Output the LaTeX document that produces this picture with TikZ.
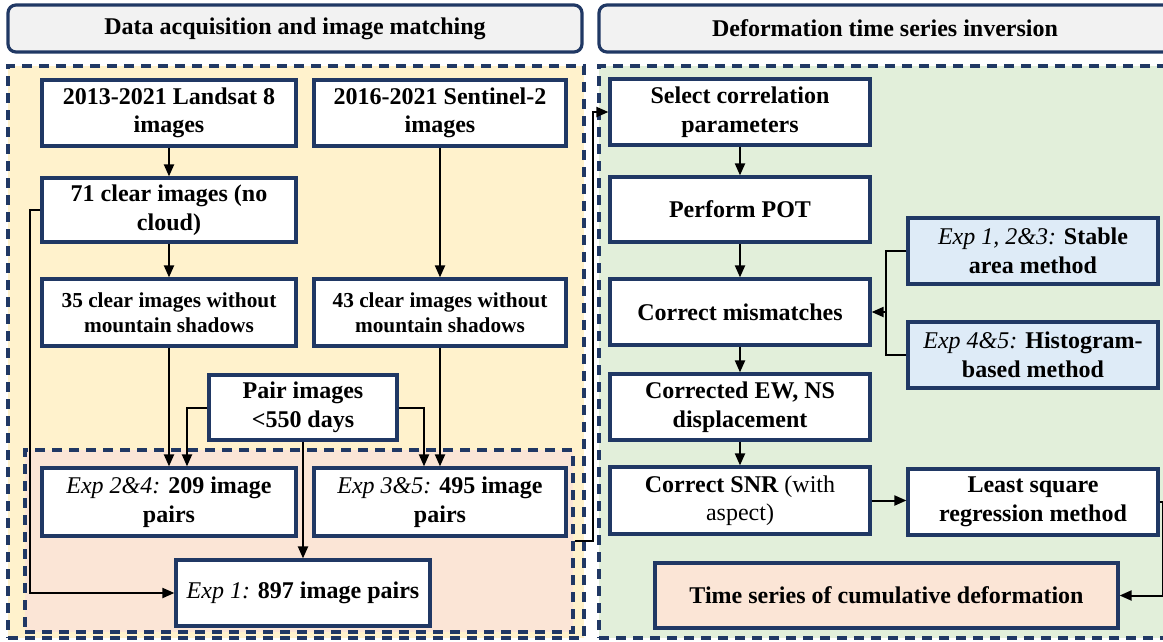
\documentclass[tikz,border=0pt]{standalone}
\usepackage{fontspec}
\setmainfont{Liberation Serif}
\usetikzlibrary{arrows.meta}
\definecolor{navy}{HTML}{203864}
\definecolor{hdrbg}{HTML}{F2F2F2}
\definecolor{yelbg}{HTML}{FFF2CC}
\definecolor{grnbg}{HTML}{E2EFDA}
\definecolor{pnkbg}{HTML}{FBE5D6}
\definecolor{blubg}{HTML}{DEEBF7}
\begin{document}
\begin{tikzpicture}[x=1pt,y=-1pt,
 box/.style={draw=navy, line width=3.2pt, fill=white, inner sep=0pt, align=center, font=\fontsize{24}{28.5}\selectfont\bfseries},
 smallbox/.style={box, font=\fontsize{21.3}{25}\selectfont\bfseries},
 hdr/.style={draw=navy, line width=3.2pt, fill=hdrbg, rounded corners=8pt, inner sep=0pt, font=\fontsize{24}{28}\selectfont\bfseries},
 region/.style={draw=navy, line width=3.2pt, dash pattern=on 10pt off 7pt, inner sep=0pt},
 arr/.style={line width=2pt, -{Triangle[length=12pt,width=10pt]}},
 ln/.style={line width=2pt}]
\clip (0,0) rectangle (1163,641);
\fill[white] (0,0) rectangle (1163,641);
% headers
\node[hdr, minimum width=574pt, minimum height=47pt] (hleft) at (295,28.5) {Data acquisition and image matching};
\node[hdr, minimum width=572pt, minimum height=47pt] (hright) at (885,28.5) {Deformation time series inversion};
% regions
\node[region, fill=yelbg, minimum width=576pt, minimum height=572pt] (lreg) at (296,352) {};
\node[region, fill=grnbg, minimum width=576pt, minimum height=572pt] (rreg) at (887,352) {};
\node[region, fill=pnkbg, minimum width=548pt, minimum height=182pt] (preg) at (299,541) {};
% left nodes
\node[box, minimum width=254pt, minimum height=66pt] (l8) at (169,113) {2013-2021 Landsat 8\\images};
\node[box, minimum width=252pt, minimum height=66pt] (s2) at (440,113) {2016-2021 Sentinel-2\\images};
\node[box, minimum width=254pt, minimum height=64pt] (c71) at (169,210) {71 clear images (no\\cloud)};
\node[smallbox, minimum width=254pt, minimum height=67pt] (c35) at (169,312.5) {35 clear images without\\mountain shadows};
\node[smallbox, minimum width=252pt, minimum height=67pt] (c43) at (440,312.5) {43 clear images without\\mountain shadows};
\node[box, minimum width=188pt, minimum height=65pt] (pair) at (303,407.5) {Pair images\\<550 days};
\node[box, minimum width=254pt, minimum height=68pt] (e24) at (169,502) {{\mdseries\itshape Exp 2\&4:} 209 image\\pairs};
\node[box, minimum width=252pt, minimum height=68pt] (e35) at (440,502) {{\mdseries\itshape Exp 3\&5:} 495 image\\pairs};
\node[box, minimum width=254pt, minimum height=66pt] (e1) at (303,593) {{\mdseries\itshape Exp 1:} 897 image pairs};
% right nodes
\node[box, minimum width=260pt, minimum height=66pt] (sel) at (740,112) {Select correlation\\parameters};
\node[box, minimum width=260pt, minimum height=65pt] (pot) at (740,209.5) {Perform POT};
\node[box, minimum width=260pt, minimum height=66pt] (mis) at (740,312) {Correct mismatches};
\node[box, minimum width=260pt, minimum height=66pt] (cew) at (740,407) {Corrected EW, NS\\displacement};
\node[box, minimum width=260pt, minimum height=67pt] (snr) at (740,500.5) {Correct SNR {\mdseries (with}\\{\mdseries aspect)}};
\node[box, fill=blubg, minimum width=250pt, minimum height=66pt] (stab) at (1033,251) {{\mdseries\itshape Exp 1, 2\&3:} Stable\\area method};
\node[box, fill=blubg, minimum width=250pt, minimum height=66pt] (hist) at (1033,355) {{\mdseries\itshape Exp 4\&5:} Histogram-\\based method};
\node[box, minimum width=250pt, minimum height=66pt] (lsq) at (1033,502) {Least square\\regression method};
\node[box, fill=pnkbg, minimum width=463pt, minimum height=65pt] (ts) at (886.5,595.5) {Time series of cumulative deformation};
% left connectors
\draw[arr] (l8.south) -- (c71.north);
\draw[arr] (c71.south) -- (c35.north);
\draw[arr] (s2.south) -- (c43.north);
\draw[arr] (c35.south) -- (e24.north);
\draw[arr] (c43.south) -- (e35.north);
\draw[arr] (pair.west) -| ([xshift=18pt]e24.north);
\draw[arr] (pair.east) -| ([xshift=-16pt]e35.north);
\draw[arr] (pair.south) -- (e1.north);
\draw[arr] (c71.west) -- ++(-10,0) |- (e1.west);
\draw[arr] (preg.east) -- ++(18,0) |- (sel.west);
% right connectors
\draw[arr] (sel.south) -- (pot.north);
\draw[arr] (pot.south) -- (mis.north);
\draw[arr] (mis.south) -- (cew.north);
\draw[arr] (cew.south) -- (snr.north);
\draw[ln] (stab.west) -- ++(-20,0) coordinate (bk) |- (hist.west);
\draw[arr] (bk |- mis.east) -- (mis.east);
\draw[arr] (snr.east) -- (snr.east -| lsq.west);
\draw[arr] (lsq.east) -- ++(3,0) |- (ts.east);
\end{tikzpicture}
\end{document}
